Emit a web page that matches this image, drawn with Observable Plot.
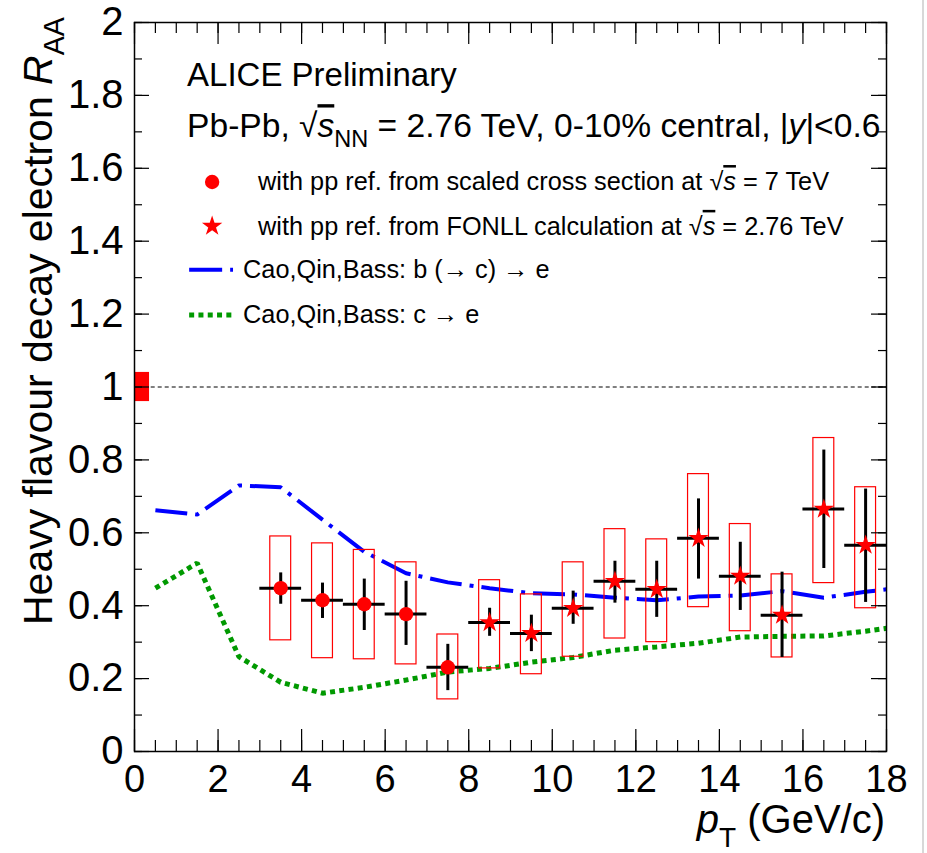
<!DOCTYPE html>
<html><head><meta charset="utf-8">
<script src="https://cdn.jsdelivr.net/npm/d3@7"></script>
<script src="https://cdn.jsdelivr.net/npm/@observablehq/plot@0.6"></script>
<style>
html,body{margin:0;padding:0;background:#fff;}
#chart{position:relative;width:927px;height:853px;}
#edge{position:absolute;left:922px;top:0;width:2px;height:853px;background:#d8d8d8;}
</style></head><body><div id="chart"><div id="edge"></div></div>
<script>
// ---- data: pp reference from scaled 7 TeV cross section (circles)
const circlePt = [3.5, 4.5, 5.5, 6.5, 7.5];
const circleRaa = [0.448, 0.415, 0.404, 0.377, 0.231];
const circleStatLo = [0.404, 0.365, 0.332, 0.291, 0.167];
const circleStatHi = [0.490, 0.462, 0.473, 0.467, 0.294];
const circleSysLo = [0.305, 0.256, 0.253, 0.239, 0.143];
const circleSysHi = [0.590, 0.571, 0.553, 0.519, 0.321];

// ---- data: pp reference from FONLL at 2.76 TeV (stars)
const starPt = [8.5, 9.5, 10.5, 11.5, 12.5, 13.5, 14.5, 15.5, 16.5, 17.5];
const starRaa = [0.354, 0.324, 0.393, 0.467, 0.445, 0.585, 0.481, 0.374, 0.665, 0.566];
const starStatLo = [0.316, 0.274, 0.349, 0.407, 0.368, 0.473, 0.387, 0.258, 0.502, 0.409];
const starStatHi = [0.393, 0.374, 0.440, 0.522, 0.522, 0.693, 0.574, 0.492, 0.827, 0.720];
const starSysLo = [0.228, 0.212, 0.260, 0.310, 0.300, 0.396, 0.330, 0.258, 0.462, 0.393];
const starSysHi = [0.470, 0.431, 0.519, 0.610, 0.582, 0.761, 0.624, 0.486, 0.860, 0.725];

// ---- model curves (Cao, Qin, Bass)
const modelPt = [0.5, 1.5, 2.5, 3.5, 4.5, 5.5, 6.5, 7.5, 8.5, 9.5, 10.5, 11.5, 12.5, 13.5, 14.5, 15.5, 16.5, 17.5, 18];
const bToE = [0.662, 0.650, 0.730, 0.725, 0.636, 0.548, 0.489, 0.464, 0.448, 0.434, 0.431, 0.422, 0.415, 0.425, 0.428, 0.440, 0.422, 0.438, 0.445];
const cToE = [0.448, 0.517, 0.260, 0.190, 0.160, 0.176, 0.196, 0.218, 0.228, 0.245, 0.258, 0.278, 0.287, 0.297, 0.314, 0.316, 0.317, 0.330, 0.338];

// ---- normalisation uncertainty
const normUnc = 0.04;

// ---- ticks
const xMajorTicks = [0, 2, 4, 6, 8, 10, 12, 14, 16, 18];
const xTickLabels = ["0", "2", "4", "6", "8", "10", "12", "14", "16", "18"];
const xMinorTicks = d3.range(0, 18.01, 0.5);
const yMajorTicks = [0, 0.2, 0.4, 0.6, 0.8, 1, 1.2, 1.4, 1.6, 1.8, 2];
const yTickLabels = ["0", "0.2", "0.4", "0.6", "0.8", "1", "1.2", "1.4", "1.6", "1.8", "2"];
const yMinorTicks = d3.range(0, 2.001, 0.1);

// ---- tables
const circles = circlePt.map((x, i) => ({x, y: circleRaa[i], slo: circleStatLo[i], shi: circleStatHi[i], ylo: circleSysLo[i], yhi: circleSysHi[i]}));
const stars = starPt.map((x, i) => ({x, y: starRaa[i], slo: starStatLo[i], shi: starStatHi[i], ylo: starSysLo[i], yhi: starSysHi[i]}));
const points = circles.concat(stars);
const bCurve = modelPt.map((x, i) => ({x, y: bToE[i]}));
const cCurve = modelPt.map((x, i) => ({x, y: cToE[i]}));

const W = 927, H = 853, ML = 134, MR = 41, MT = 22, MB = 102;
const PW = W - ML - MR, PH = H - MT - MB;
const FONT = "'Liberation Sans', Arial, Helvetica, sans-serif";
const RED = "#ff0000";
const BLUE_DASH = "32,8,4,8";
const GREEN_DOT = "5,4.3";

const plot = Plot.plot({
  width: W, height: H,
  marginLeft: ML, marginRight: MR, marginTop: MT, marginBottom: MB,
  x: {domain: [0, 18]},
  y: {domain: [0, 2]},
  style: {fontFamily: FONT, background: "transparent", color: "black", overflow: "visible"},
  marks: [
    // normalisation box and reference line
    Plot.rect([normUnc], {x1: 0, x2: 0.36, y1: d => 1 - d, y2: d => 1 + d, fill: RED}),
    Plot.ruleY([1], {x1: 0.4, x2: 18, stroke: "black", strokeWidth: 1, strokeDasharray: "4,3"}),
    // models
    Plot.line(cCurve, {x: "x", y: "y", stroke: "#009900", strokeWidth: 5, strokeDasharray: GREEN_DOT, strokeLinecap: "butt", strokeLinejoin: "miter"}),
    Plot.line(bCurve, {x: "x", y: "y", stroke: "#0000ff", strokeWidth: 4, strokeDasharray: BLUE_DASH, strokeLinecap: "butt", strokeLinejoin: "miter"}),
    // systematic boxes
    Plot.rect(points, {x1: d => d.x - 0.25, x2: d => d.x + 0.25, y1: "ylo", y2: "yhi", fill: "none", stroke: RED, strokeWidth: 1.2}),
    // stat error bars and bin widths
    Plot.ruleX(points, {x: "x", y1: "slo", y2: "shi", stroke: "black", strokeWidth: 3}),
    Plot.ruleY(points, {y: "y", x1: d => d.x - 0.5, x2: d => d.x + 0.5, stroke: "black", strokeWidth: 3}),
    // markers
    Plot.dot(circles, {x: "x", y: "y", r: 7.2, fill: RED, stroke: "none"}),
    Plot.dot(stars, {x: "x", y: "y", r: 6.4, symbol: "star", fill: RED, stroke: "none"}),
    // frame
    Plot.frame({stroke: "black", strokeWidth: 1.5}),
    // inward ticks (ROOT style)
    Plot.tickX(xMajorTicks, {x: d => d, insetTop: PH - 22, stroke: "black", strokeWidth: 1.2}),
    Plot.tickX(xMinorTicks, {x: d => d, insetTop: PH - 11, stroke: "black", strokeWidth: 1.2}),
    Plot.tickX(xMajorTicks, {x: d => d, insetBottom: PH - 22, stroke: "black", strokeWidth: 1.2}),
    Plot.tickX(xMinorTicks, {x: d => d, insetBottom: PH - 11, stroke: "black", strokeWidth: 1.2}),
    Plot.tickY(yMajorTicks, {y: d => d, insetRight: PW - 15, stroke: "black", strokeWidth: 1.2}),
    Plot.tickY(yMinorTicks, {y: d => d, insetRight: PW - 8, stroke: "black", strokeWidth: 1.2}),
    Plot.tickY(yMajorTicks, {y: d => d, insetLeft: PW - 15, stroke: "black", strokeWidth: 1.2}),
    Plot.tickY(yMinorTicks, {y: d => d, insetLeft: PW - 8, stroke: "black", strokeWidth: 1.2}),
    // tick labels
    Plot.axisX({ticks: xMajorTicks, tickFormat: (d) => xTickLabels[xMajorTicks.indexOf(d)], tickSize: 0, tickPadding: 14, fontSize: 38, label: null}),
    Plot.axisY({ticks: yMajorTicks, tickFormat: (d) => yTickLabels[yMajorTicks.findIndex(v => Math.abs(v - d) < 1e-9)], tickSize: 0, tickPadding: 11, fontSize: 40, label: null})
  ]
});
document.getElementById("chart").appendChild(plot);

// ---- rich text overlay (titles, annotations, legend)
const sx = plot.scale("x"), sy = plot.scale("y");
const X = v => sx.apply(v), Y = v => sy.apply(v);
const svg = d3.select(plot);
const g = svg.append("g").attr("font-family", FONT).attr("fill", "black");

function rich(parts, {x, y, size, anchor = "start", rotate = 0, subScale = 0.7, subShift = 0.3}) {
  const t = g.append("text")
    .attr("transform", `translate(${x},${y}) rotate(${rotate})`)
    .attr("text-anchor", anchor).attr("font-size", size);
  let shift = 0;
  for (const p of parts) {
    const ts = t.append("tspan").text(p.t);
    const target = p.sub ? size * subShift : 0;
    if (target !== shift) ts.attr("dy", target - shift);
    shift = target;
    if (p.sub) ts.attr("font-size", size * subScale);
    if (p.i) ts.attr("font-style", "italic");
    if (p.over) ts.attr("text-decoration", "overline");
  }
  return t;
}

// axis titles
rich([{t: "Heavy flavour decay electron "}, {t: "R", i: true}, {t: "AA", sub: true}],
  {x: 52, y: Y(2) - 5, size: 41, anchor: "end", rotate: -90});
rich([{t: "p", i: true}, {t: "T", sub: true}, {t: " (GeV/c)"}],
  {x: X(18) - 1, y: 833, size: 40, anchor: "end", subShift: 0.35});

// annotations
rich([{t: "ALICE Preliminary"}], {x: X(1.27), y: Y(1.824), size: 33});
rich([{t: "Pb-Pb, √"}, {t: "s", i: true, over: true}, {t: "NN", sub: true}, {t: " = 2.76 TeV, 0-10% central, |"}, {t: "y", i: true}, {t: "|<0.6"}],
  {x: X(1.27), y: Y(1.684), size: 33.6});

// legend
const lx = X(1.87);
g.append("circle").attr("cx", lx).attr("cy", Y(1.561)).attr("r", 7.2).attr("fill", RED);
g.append("path").attr("d", d3.symbol(d3.symbolStar, Math.PI * 6.4 * 6.4)()).attr("transform", `translate(${lx},${Y(1.44)})`).attr("fill", RED);
rich([{t: "with pp ref. from scaled cross section at √"}, {t: "s", i: true, over: true}, {t: " = 7 TeV"}], {x: X(2.97), y: Y(1.539), size: 25.3});
rich([{t: "with pp ref. from FONLL calculation at √"}, {t: "s", i: true, over: true}, {t: " = 2.76 TeV"}], {x: X(2.97), y: Y(1.416), size: 25.3});
g.append("line").attr("x1", X(1.32)).attr("x2", X(2.37)).attr("y1", Y(1.32)).attr("y2", Y(1.32))
  .attr("stroke", "#0000ff").attr("stroke-width", 4).attr("stroke-dasharray", "33,8,4,8");
g.append("line").attr("x1", X(1.32)).attr("x2", X(2.37)).attr("y1", Y(1.196)).attr("y2", Y(1.196))
  .attr("stroke", "#009900").attr("stroke-width", 5).attr("stroke-dasharray", GREEN_DOT);
rich([{t: "Cao,Qin,Bass: b (→ c) → e"}], {x: X(2.61), y: Y(1.298), size: 25.3});
rich([{t: "Cao,Qin,Bass: c → e"}], {x: X(2.61), y: Y(1.174), size: 25.3});
</script>
</body></html>
